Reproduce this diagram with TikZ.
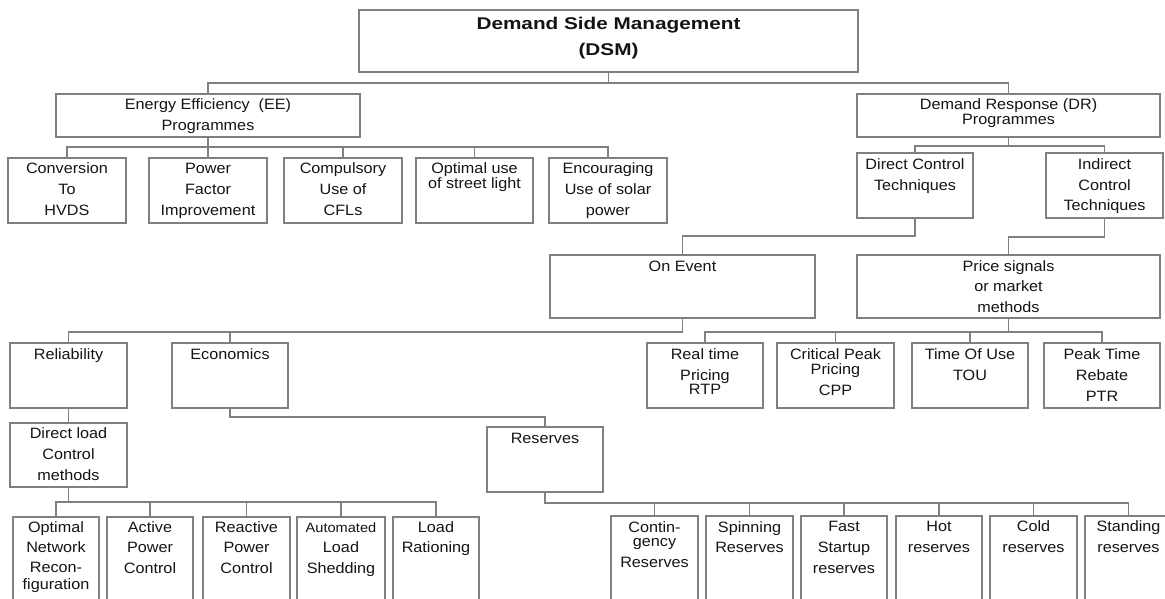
\documentclass[tikz,border=0pt]{standalone}
\usepackage{fontspec}
\setmainfont{Liberation Sans}[FakeStretch=1.08]
\newfontfamily\dsmfont{Liberation Sans}[FakeStretch=1.22]
\definecolor{ln}{RGB}{128,128,128}
\definecolor{tx}{RGB}{20,20,20}
\tikzset{
  box/.style={draw=ln, line width=1.6pt, rectangle, inner sep=0pt, outer sep=0pt,
    font=\fontsize{15}{21}\selectfont, text=tx},
  conn/.style={draw=ln, line width=1.6pt}
}
% \bx{name}{x1}{y1}{x2}{y2}{text}
\newcommand\bx[6]{%
  \node[box, minimum width={(#4-#2)*1pt}, minimum height={(#5-#3)*1pt}] (#1)
    at ({(#2+#4)/2},{(#3+#5)/2})
    {\parbox[c][\dimexpr#5pt-#3pt\relax][t]{\dimexpr#4pt-#2pt\relax}{\lineskiplimit=-100pt\centering\rule{0pt}{15.5pt}#6}};}
\begin{document}
\begin{tikzpicture}[x=1pt,y=-1pt]
\useasboundingbox (0,0) rectangle (1165,599);
\clip (0,0) rectangle (1165,599);
% level 0
\bx{dsm}{359}{10}{858}{72}{\dsmfont\bfseries\fontsize{17}{26}\selectfont\rule{0pt}{19.5pt}Demand Side Management\\(DSM)}
% level 1
\bx{ee}{56}{94}{360}{137}{Energy Efficiency~~(EE)\\Programmes}
\bx{dr}{857}{94}{1160}{137}{Demand Response (DR)\\[-6pt]Programmes}
% EE children
\bx{conv}{8}{158}{126}{223}{Conversion\\To\\HVDS}
\bx{pf}{149}{158}{267}{223}{Power\\Factor\\Improvement}
\bx{cfl}{284}{158}{402}{223}{Compulsory\\Use of\\CFLs}
\bx{street}{416}{158}{533}{223}{Optimal use\\[-6pt]of street light}
\bx{solar}{549}{158}{667}{223}{Encouraging\\Use of solar\\power}
% DR children
\bx{dct}{857}{153}{973}{218}{\rule{0pt}{16pt}Direct Control\\Techniques}
\bx{ict}{1046}{153}{1163}{218}{\rule{0pt}{16pt}Indirect\\Control\\Techniques}
\bx{onev}{550}{255}{815}{318}{\rule{0pt}{16pt}On Event}
\bx{price}{857}{255}{1160}{318}{\rule{0pt}{16pt}Price signals\\[-1pt]or market\\methods}
% price children
\bx{rtp}{647}{343}{763}{408}{\rule{0pt}{16pt}Real time\\Pricing\\[-7pt]RTP}
\bx{cpp}{777}{343}{894}{408}{\rule{0pt}{16pt}Critical Peak\\[-6pt]Pricing\\CPP}
\bx{tou}{912}{343}{1028}{408}{\rule{0pt}{16pt}Time Of Use\\TOU}
\bx{ptr}{1044}{343}{1160}{408}{\rule{0pt}{16pt}Peak Time\\Rebate\\PTR}
% on event children
\bx{rel}{10}{343}{127}{408}{\rule{0pt}{16pt}Reliability}
\bx{econ}{172}{343}{288}{408}{\rule{0pt}{16pt}Economics}
\bx{dlc}{10}{423}{127}{487}{\rule{0pt}{15.8pt}Direct load\\Control\\methods}
\bx{res}{487}{427}{603}{492}{\rule{0pt}{16pt}Reserves}
% direct load children
\bx{onr}{13}{517}{99}{612}{Optimal\\[-1pt]Network\\[-1pt]Recon-\\[-4pt]figuration}
\bx{apc}{107}{517}{193}{612}{Active\\[-1pt]Power\\Control}
\bx{rpc}{203}{517}{290}{612}{Reactive\\[-1pt]Power\\Control}
\bx{als}{297}{517}{385}{612}{{\fontsize{13.5}{21}\selectfont Automated}\\[-1pt]Load\\Shedding}
\bx{lr}{393}{517}{479}{612}{Load\\[-1pt]Rationing}
% reserves children
\bx{cont}{611}{516}{698}{612}{\rule{0pt}{16pt}Contin-\\[-7pt]gency\\Reserves}
\bx{spin}{706}{516}{793}{612}{\rule{0pt}{16pt}Spinning\\[-1pt]Reserves}
\bx{fast}{801}{516}{887}{612}{\rule{0pt}{14.5pt}Fast\\Startup\\reserves}
\bx{hot}{896}{516}{982}{612}{\rule{0pt}{14.5pt}Hot\\reserves}
\bx{cold}{990}{516}{1077}{612}{\rule{0pt}{14.5pt}Cold\\reserves}
\bx{stand}{1085}{516}{1172}{612}{\rule{0pt}{14.5pt}Standing\\reserves}
% connectors
\foreach \c in {ee,dr} \draw[conn] (dsm.south) -- ++(0,11) -| (\c.north);
\foreach \c in {conv,pf,cfl,street,solar} \draw[conn] (ee.south) -- ++(0,10) -| (\c.north);
\foreach \c in {dct,ict} \draw[conn] (dr.south) -- ++(0,9) -| (\c.north);
\draw[conn] (dct.south) -- ++(0,18) -| (onev.north);
\draw[conn] (ict.south) -- ++(0,19) -| (price.north);
\foreach \c in {rtp,cpp,tou,ptr} \draw[conn] (price.south) -- ++(0,14) -| (\c.north);
\foreach \c in {rel,econ} \draw[conn] (onev.south) -- ++(0,14) -| (\c.north);
\draw[conn] (rel.south) -- (dlc.north);
\draw[conn] (econ.south) -- ++(0,9) -| (res.north);
\foreach \c in {onr,apc,rpc,als,lr} \draw[conn] (dlc.south) -- ++(0,15) -| (\c.north);
\foreach \c in {cont,spin,fast,hot,cold,stand} \draw[conn] (res.south) -- ++(0,11) -| (\c.north);
\end{tikzpicture}
\end{document}
